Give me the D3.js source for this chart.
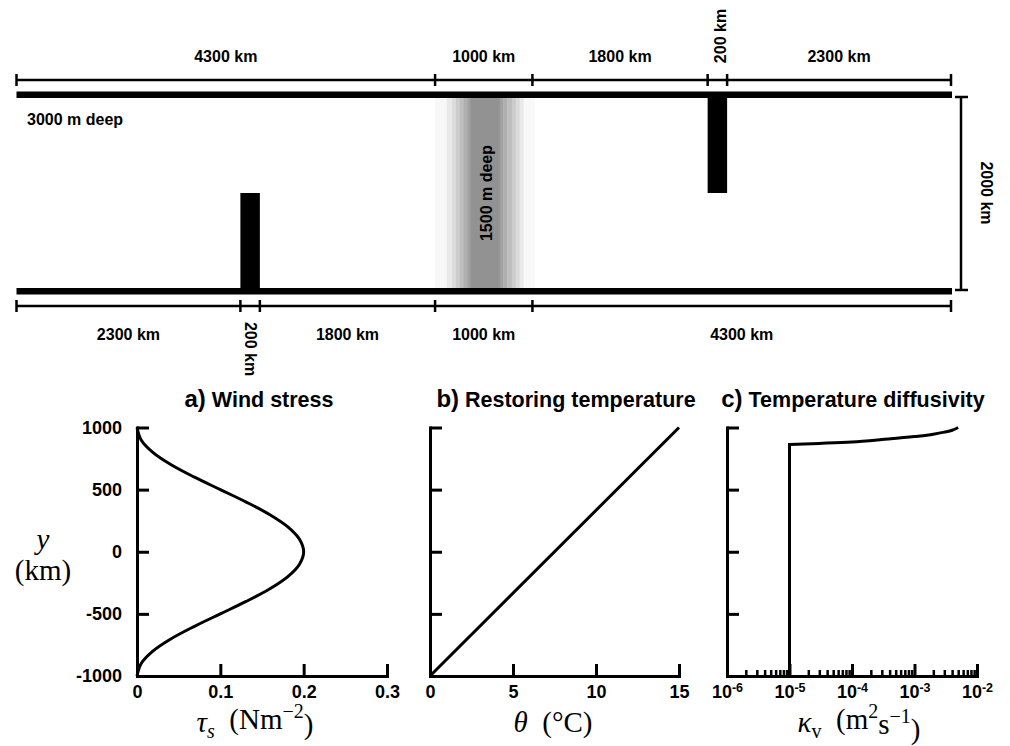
<!DOCTYPE html>
<html lang="en">
<head>
<meta charset="utf-8">
<title>Channel setup and forcing profiles</title>
<script src="https://d3js.org/d3.v7.min.js"></script>
<style>
body { margin: 0; background: #fff; }
svg { display: block; }
.lbl { font-family: "Liberation Sans", Arial, Helvetica, sans-serif; font-weight: bold; font-size: 16px; fill: #000; }
.math { font-family: "Liberation Serif", "DejaVu Serif", serif; font-size: 29px; fill: #000; }
.axis path, .axis line { stroke: #000; stroke-width: 3; fill: none; }
.axis path { stroke-linecap: square; }
.axis text { font-family: "Liberation Sans", Arial, Helvetica, sans-serif; font-weight: bold; font-size: 18px; fill: #000; }
.minor line { stroke-width: 2.5; }
.dim { stroke: #000; stroke-width: 2.5; }
.curve { fill: none; stroke: #000; stroke-width: 3; }
</style>
</head>
<body>
<script>
// channel geometry (km)
var topSpans = [4300, 1000, 1800, 200, 2300];
var bottomSpans = [2300, 200, 1800, 1000, 4300];
var channelLength = 9600;
var channelWidth = 2000;
var topRidge = [7100, 7300];
var bottomRidge = [2300, 2500];
var ridgeReach = 1000;
// shallow region: band edges (km along channel) and depth (m) of each band
var shoalEdges = [4300, 4420, 4475, 4515, 4555, 4595, 4635, 4660, 4965, 5000, 5040, 5090, 5130, 5170, 5210, 5320];
var shoalDepth = [2900, 2700, 2500, 2300, 2100, 1900, 1700, 1500, 1700, 1900, 2100, 2300, 2500, 2700, 2900];

// a) wind stress profile
var windY   = [1000, 900, 800, 700, 600, 500, 400, 300, 200, 100, 0, -100, -200, -300, -400, -500, -600, -700, -800, -900, -1000];
var windTau = [0, 0.005, 0.019, 0.041, 0.069, 0.1, 0.131, 0.159, 0.181, 0.195, 0.2, 0.195, 0.181, 0.159, 0.131, 0.1, 0.069, 0.041, 0.019, 0.005, 0];
// b) restoring temperature
var thetaY   = [-1000, 1000];
var thetaVal = [0, 15];
// c) temperature diffusivity (vertical jump at the bottom, then the northern rise)
var kappaVal = [1e-5, 3e-5, 1e-4, 3e-4, 1e-3, 2e-3, 3e-3, 4e-3, 5e-3];
var kappaY   = [863, 872, 884, 903, 927, 946, 963, 978, 1000];
var kappaBase = -1000;

var yTicks = [-1000, -500, 0, 500, 1000];
var tauTicks = [0, 0.1, 0.2, 0.3];
var thetaTicks = [0, 5, 10, 15];
var kappaTicks = [1e-6, 1e-5, 1e-4, 1e-3, 1e-2];

var svg = d3.select("body").append("svg")
    .attr("width", 1010)
    .attr("height", 746);

// ---------- channel schematic ----------
var x = d3.scaleLinear().domain([0, channelLength]).range([16.5, 951]);
var yc = d3.scaleLinear().domain([0, channelWidth]).range([288, 98]);
var wall = 6.5;
var shade = d3.scaleLinear().domain([3000, 1500]).range(["#ffffff", "#929292"]);

svg.selectAll("rect.shoal")
    .data(shoalDepth)
    .enter()
    .append("rect")
    .attr("class", "shoal")
    .attr("x", function(d, i) { return x(shoalEdges[i]); })
    .attr("width", function(d, i) { return x(shoalEdges[i + 1]) - x(shoalEdges[i]) + 0.4; })
    .attr("y", yc(channelWidth))
    .attr("height", yc(0) - yc(channelWidth))
    .attr("fill", function(d) { return shade(d); });

// walls
svg.append("rect")
    .attr("x", x(0)).attr("width", x(channelLength) - x(0) + 1)
    .attr("y", yc(channelWidth) - wall).attr("height", wall);
svg.append("rect")
    .attr("x", x(0)).attr("width", x(channelLength) - x(0) + 1)
    .attr("y", yc(0)).attr("height", wall);

// ridges
svg.append("rect")
    .attr("x", x(topRidge[0])).attr("width", x(topRidge[1]) - x(topRidge[0]))
    .attr("y", yc(channelWidth)).attr("height", yc(channelWidth - ridgeReach) - yc(channelWidth));
svg.append("rect")
    .attr("x", x(bottomRidge[0])).attr("width", x(bottomRidge[1]) - x(bottomRidge[0]))
    .attr("y", yc(ridgeReach)).attr("height", yc(0) - yc(ridgeReach));

// dimension lines along the channel
function dimLine(spans, yPos, labelY, smallDx, smallY, smallRot) {
    var edges = [0];
    spans.forEach(function(s) { edges.push(edges[edges.length - 1] + s); });
    svg.append("line").attr("class", "dim")
        .attr("x1", x(0)).attr("x2", x(channelLength))
        .attr("y1", yPos).attr("y2", yPos);
    svg.selectAll(null)
        .data(edges)
        .enter()
        .append("line")
        .attr("class", "dim")
        .attr("x1", function(d) { return x(d); })
        .attr("x2", function(d) { return x(d); })
        .attr("y1", yPos - 6)
        .attr("y2", yPos + 6);
    spans.forEach(function(s, i) {
        var cx = x((edges[i] + edges[i + 1]) / 2);
        var t = svg.append("text").attr("class", "lbl")
            .attr("text-anchor", "middle")
            .text(s + " km");
        if (s < 500) {
            t.attr("transform", "translate(" + (cx + smallDx) + "," + smallY + ") rotate(" + smallRot + ")");
        } else {
            t.attr("x", cx).attr("y", labelY);
        }
    });
}
dimLine(topSpans, 80, 62, 8.5, 36, -90);
dimLine(bottomSpans, 306, 340, -5, 349, 90);

// channel width
var vx = 961;
svg.append("line").attr("class", "dim")
    .attr("x1", vx).attr("x2", vx)
    .attr("y1", yc(channelWidth) - 1).attr("y2", yc(0) + 2);
[yc(channelWidth) - 1, yc(0) + 2].forEach(function(yy) {
    svg.append("line").attr("class", "dim")
        .attr("x1", vx - 6).attr("x2", vx + 7)
        .attr("y1", yy).attr("y2", yy);
});
svg.append("text").attr("class", "lbl")
    .attr("text-anchor", "middle")
    .attr("transform", "translate(981," + yc(channelWidth / 2) + ") rotate(90)")
    .text(channelWidth + " km");

svg.append("text").attr("class", "lbl")
    .attr("x", 27).attr("y", 125)
    .text("3000 m deep");
svg.append("text").attr("class", "lbl")
    .attr("text-anchor", "middle")
    .attr("transform", "translate(492," + yc(channelWidth / 2) + ") rotate(-90)")
    .text("1500 m deep");

// ---------- forcing panels ----------
var yp = d3.scaleLinear().domain([-1000, 1000]).range([676, 427.5]);

function yAxis(x0, labels) {
    var ax = d3.axisLeft(yp)
        .tickValues(yTicks)
        .tickSizeInner(-12)
        .tickSizeOuter(0)
        .tickPadding(15)
        .tickFormat(labels ? function(d) { return String(d); } : "");
    svg.append("g").attr("class", "axis")
        .attr("transform", "translate(" + x0 + ",0)")
        .call(ax);
}
function xAxis(scale, ticks, fmt) {
    var ax = d3.axisBottom(scale)
        .tickValues(ticks)
        .tickSizeInner(-12)
        .tickSizeOuter(0)
        .tickPadding(9)
        .tickFormat(fmt);
    return svg.append("g").attr("class", "axis")
        .attr("transform", "translate(0," + yp(-1000) + ")")
        .call(ax);
}
function title(cx, tag, name) {
    var t = svg.append("text").attr("class", "lbl")
        .attr("x", cx).attr("y", 407)
        .attr("text-anchor", "middle");
    t.append("tspan").style("font-size", "24px").text(tag);
    t.append("tspan").style("font-size", "21.5px").text(" " + name);
}

// a) wind stress
var xa = d3.scaleLinear().domain([0, 0.3]).range([137, 387]);
yAxis(137, true);
xAxis(xa, tauTicks, function(d) { return String(d); });
svg.append("path")
    .datum(windY)
    .attr("class", "curve")
    .attr("d", d3.line()
        .x(function(d, i) { return xa(windTau[i]); })
        .y(function(d) { return yp(d); })
        .curve(d3.curveCatmullRom));
title(259, "a)", "Wind stress");

// b) restoring temperature
var xb = d3.scaleLinear().domain([0, 15]).range([430, 679]);
yAxis(430, false);
xAxis(xb, thetaTicks, function(d) { return String(d); });
svg.append("path")
    .datum(thetaY)
    .attr("class", "curve")
    .attr("d", d3.line()
        .x(function(d, i) { return xb(thetaVal[i]); })
        .y(function(d) { return yp(d); }));
title(566, "b)", "Restoring temperature");

// c) temperature diffusivity
var xcs = d3.scaleLog().domain([1e-6, 1e-2]).range([727, 977]);
yAxis(727, false);
var minor = xcs.ticks().filter(function(d) { return kappaTicks.indexOf(d) < 0; });
svg.append("g").attr("class", "axis minor")
    .attr("transform", "translate(0," + yp(-1000) + ")")
    .call(d3.axisBottom(xcs).tickValues(minor).tickSizeInner(-6).tickSizeOuter(0).tickFormat(""))
    .select(".domain").remove();
var gc = xAxis(xcs, kappaTicks, function() { return ""; });
gc.selectAll(".tick text").each(function(d) {
    var t = d3.select(this);
    t.append("tspan").text("10");
    t.append("tspan")
        .attr("dy", "-0.5em")
        .style("font-size", "12.5px")
        .text(String(Math.round(Math.log10(d))));
});
svg.append("path")
    .datum([kappaBase, kappaY[0]])
    .attr("class", "curve")
    .style("stroke-linecap", "square")
    .attr("d", d3.line()
        .x(function() { return xcs(kappaVal[0]); })
        .y(function(d) { return yp(d); }));
svg.append("path")
    .datum(kappaVal)
    .attr("class", "curve")
    .attr("d", d3.line()
        .x(function(d) { return xcs(d); })
        .y(function(d, i) { return yp(kappaY[i]); })
        .curve(d3.curveMonotoneX));
title(853, "c)", "Temperature diffusivity");

// ---------- math axis labels ----------
var sub = "0.3em", sup = "-0.55em";
var la = svg.append("text").attr("class", "math").attr("x", 255).attr("y", 732).attr("text-anchor", "middle");
la.append("tspan").style("font-style", "italic").text("τ");
la.append("tspan").style("font-style", "italic").style("font-size", "20px").attr("dy", sub).text("s");
la.append("tspan").attr("dy", "-0.3em").text("\u2002(Nm");
la.append("tspan").style("font-size", "20px").attr("dy", sup).text("−2");
la.append("tspan").attr("dy", "0.55em").text(")");

var lb = svg.append("text").attr("class", "math").attr("x", 553).attr("y", 732).attr("text-anchor", "middle");
lb.append("tspan").style("font-style", "italic").text("θ");
lb.append("tspan").text("\u2002(°C)");

var lc = svg.append("text").attr("class", "math").attr("x", 859).attr("y", 732).attr("text-anchor", "middle");
lc.append("tspan").style("font-style", "italic").text("κ");
lc.append("tspan").style("font-size", "20px").attr("dy", sub).text("v");
lc.append("tspan").attr("dy", "-0.3em").text("\u2002(m");
lc.append("tspan").style("font-size", "20px").attr("dy", sup).text("2");
lc.append("tspan").attr("dy", "0.55em").text("s");
lc.append("tspan").style("font-size", "20px").attr("dy", sup).text("−1");
lc.append("tspan").attr("dy", "0.55em").text(")");

svg.append("text").attr("class", "math")
    .attr("x", 43).attr("y", 549).attr("text-anchor", "middle")
    .style("font-style", "italic")
    .text("y");
svg.append("text").attr("class", "math")
    .attr("x", 43).attr("y", 580).attr("text-anchor", "middle")
    .text("(km)");
</script>
</body>
</html>
